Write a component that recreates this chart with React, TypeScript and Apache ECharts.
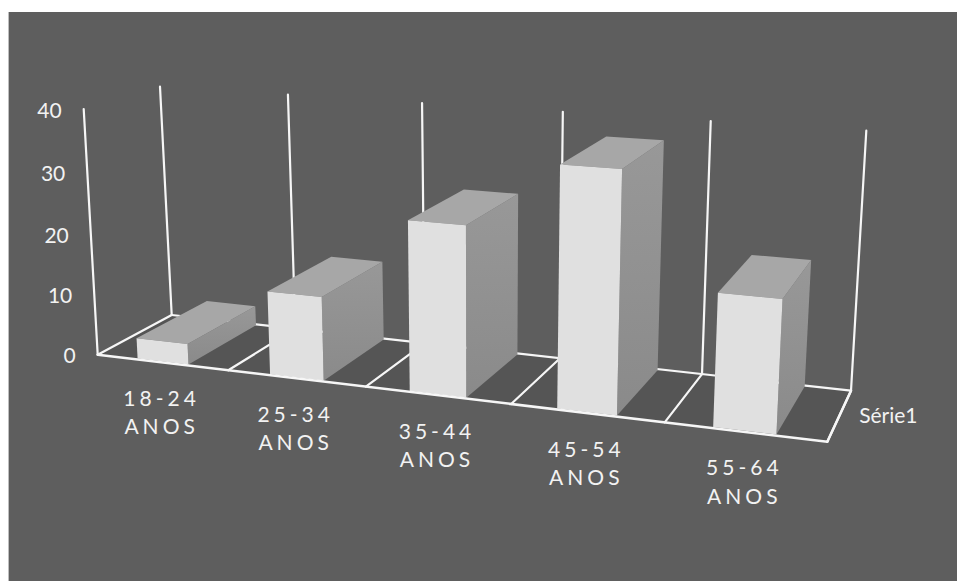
import React, { useEffect, useRef } from "react";
import * as echarts from "echarts";

// Age bands and their shares
const categories = ["18-24", "25-34", "35-44", "45-54", "55-64"];
const unitLabel = "ANOS";
const seriesName = "Série1";
const seriesValues = [3.4, 13.4, 26.6, 36.7, 20];
const valueTicks = [0, 10, 20, 30, 40];

const WIDTH = 957;
const HEIGHT = 581;
const FONT = '21px Lato, "Open Sans", sans-serif';
const LINE = "#f6f6f6";
const TEXT = "#f2f2f2";

type P = [number, number];
type Quad = [P, P, P, P];

// Perspective frame of the box: bottom-left, bottom-right, top-right, top-left
const frontPlane: Quad = [[97.7, 354.7], [827.3, 441.7], [842, 162], [83.7, 109]];
const backPlane: Quad = [[171.7, 315], [851, 390.7], [866.3, 130.7], [160, 86.7]];
// The back wall's divisions are spaced a little more evenly than the front's
const BACK_EVENNESS = 0.02;

// Closed-form mapping of the unit square onto a quadrilateral
function homography(q: Quad) {
  const [[x0, y0], [x1, y1], [x2, y2], [x3, y3]] = q;
  const dx1 = x1 - x2, dx2 = x3 - x2, sx = x0 - x1 + x2 - x3;
  const dy1 = y1 - y2, dy2 = y3 - y2, sy = y0 - y1 + y2 - y3;
  const den = dx1 * dy2 - dx2 * dy1;
  const g = (sx * dy2 - dx2 * sy) / den;
  const h = (dx1 * sy - sx * dy1) / den;
  const a = x1 - x0 + g * x1, b = x3 - x0 + h * x3;
  const d = y1 - y0 + g * y1, e = y3 - y0 + h * y3;
  return (u: number, v: number): P => {
    const w = g * u + h * v + 1;
    return [(a * u + b * v + x0) / w, (d * u + e * v + y0) / w];
  };
}
const frontMap = homography(frontPlane);
const backMap = homography(backPlane);

// Sends axis values plus a depth (0 front, 1 back) through the axes, then the perspective
function projector(api: any) {
  return (cat: number, depth: number, value: number): P => {
    const [px, py] = api.coord([cat, value]);
    const u = px / WIDTH;
    const v = 1 - py / HEIGHT;
    const f = frontMap(u, v);
    const b = backMap(u + BACK_EVENNESS * u * (1 - u), v);
    return [f[0] + (b[0] - f[0]) * depth, f[1] + (b[1] - f[1]) * depth];
  };
}

const line = (a: P, b: P, lineWidth = 2.2) => ({
  type: "line",
  shape: { x1: a[0], y1: a[1], x2: b[0], y2: b[1] },
  style: { stroke: LINE, lineWidth, lineCap: "round" },
});
const face = (points: P[], fill: any) => ({
  type: "polygon",
  shape: { points },
  style: { fill },
});

const BAR_START = 0.3;
const BAR_END = 0.69;
const DEPTH_START = 0.02;
const DEPTH_END = 0.98;
// Bars drift slightly to the right as they recede
const BACK_DRIFT = 0.008;
const MAX_VALUE = valueTicks[valueTicks.length - 1];
const count = categories.length;
const boundaries = categories.map((_, i) => [i, 0]).concat([[count, 0]]);

function renderFloor(_: any, api: any) {
  const p = projector(api);
  return face([p(0, 0, 0), p(count, 0, 0), p(count, 1, 0), p(0, 1, 0)], "#555555");
}

function renderFrame(params: any, api: any) {
  const p = projector(api);
  const i = api.value(0);
  const children: any[] = [line(p(i, 1, 0), p(i, 1, MAX_VALUE))];
  if (i > 0) children.push(line(p(i, 0, 0), p(i, 1, 0)));
  if (i === 0) {
    children.push(line(p(0, 0, 0), p(0, 0, MAX_VALUE)));
    children.push(line(p(0, 1, 0), p(count, 1, 0)));
  }
  return { type: "group", children };
}

function renderBar(_: any, api: any) {
  const p = projector(api);
  const i = api.value(0);
  const v = api.value(1);
  const l = i + BAR_START, r = i + BAR_END;
  const lb = l + BACK_DRIFT, rb = r + BACK_DRIFT;
  const side = new echarts.graphic.LinearGradient(0, 0, 0, 1, [
    { offset: 0, color: "#989898" },
    { offset: 1, color: "#8a8a8a" },
  ]);
  return {
    type: "group",
    children: [
      face([p(r, DEPTH_START, 0), p(rb, DEPTH_END, 0), p(rb, DEPTH_END, v), p(r, DEPTH_START, v)], side),
      face([p(l, DEPTH_START, v), p(r, DEPTH_START, v), p(rb, DEPTH_END, v), p(lb, DEPTH_END, v)], "#a7a7a7"),
      face([p(l, DEPTH_START, 0), p(r, DEPTH_START, 0), p(r, DEPTH_START, v), p(l, DEPTH_START, v)], "#e0e0e0"),
    ],
  };
}

function renderFrontEdge(_: any, api: any) {
  const p = projector(api);
  return {
    type: "group",
    children: [
      line(p(0, 0, 0), p(count, 0, 0), 2.5),
      line(p(count, 0, 0), p(count, 1, 0), 2.5),
      line(p(0, 0, 0), p(0, 1, 0)),
    ],
  };
}

const label = (text: string, x: number, y: number, align: string) => ({
  type: "text",
  style: {
    text, x, y, fill: TEXT, font: FONT,
    textAlign: align, textVerticalAlign: "middle",
    align, verticalAlign: "middle",
  },
});

function renderValueLabel(_: any, api: any) {
  const p = projector(api);
  const v = api.value(1);
  const [x, y] = p(0, 0, v);
  return label(String(v), x - 22, y, "right");
}

function renderCategoryLabel(_: any, api: any) {
  const p = projector(api);
  const i = api.value(0);
  const [x, y] = p(i + 0.5, 0, 0);
  return {
    type: "group",
    children: [
      label(categories[i], x - 0.5, y + 35, "center"),
      label(unitLabel, x - 0.5, y + 63.5, "center"),
    ],
  };
}

function renderSeriesLabel(_: any, api: any) {
  const p = projector(api);
  const [x, y] = p(count, 0.5, 0);
  return label(seriesName, x + 20, y - 1.5, "left");
}

const custom = (name: string, z: number, data: any[], renderItem: any) => ({
  type: "custom",
  name,
  coordinateSystem: "cartesian2d",
  clip: false,
  silent: true,
  z,
  data,
  encode: { x: 0, y: 1 },
  renderItem,
});

export default function App() {
  const ref = useRef<HTMLDivElement>(null);
  useEffect(() => {
    const chart = echarts.init(ref.current!, null, { renderer: "svg" });
    chart.setOption({
      animation: false,
      backgroundColor: "#ffffff",
      grid: { left: 0, right: 0, top: 0, bottom: 0 },
      xAxis: { type: "value", min: 0, max: count, show: false },
      yAxis: { type: "value", min: 0, max: MAX_VALUE, show: false },
      graphic: [
        {
          type: "rect",
          z: 0,
          shape: { x: 8.6, y: 12, width: WIDTH - 8.6, height: HEIGHT - 12 },
          style: { fill: "#5e5e5e" },
        },
      ],
      series: [
        custom("floor", 2, [[0, 0]], renderFloor),
        custom("frame", 3, boundaries, renderFrame),
        custom(seriesName, 4, seriesValues.map((v, i) => [i, v]), renderBar),
        custom("edge", 5, [[0, 0]], renderFrontEdge),
        custom("valueLabels", 6, valueTicks.map((v) => [0, v]), renderValueLabel),
        custom("categoryLabels", 6, categories.map((_, i) => [i, 0]), renderCategoryLabel),
        custom("seriesLabel", 6, [[0, 0]], renderSeriesLabel),
      ],
    });
    // The band names and their unit are set with wide tracking
    const spaced = new Set([...categories, unitLabel]);
    ref.current!.querySelectorAll("text").forEach((t) => {
      if (spaced.has((t.textContent || "").trim())) {
        (t as SVGTextElement).style.letterSpacing = "4px";
      }
    });
    return () => chart.dispose();
  }, []);
  return (
    <div
      ref={ref}
      style={{ position: "fixed", left: 0, top: 0, width: WIDTH, height: HEIGHT }}
    />
  );
}
